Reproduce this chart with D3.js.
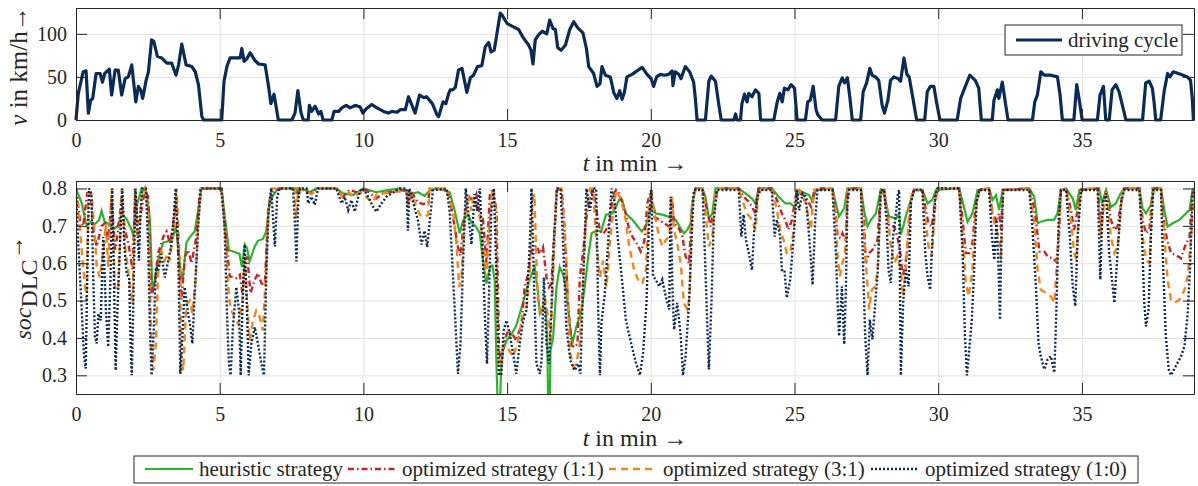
<!DOCTYPE html>
<html>
<head>
<meta charset="utf-8">
<script src="https://cdn.jsdelivr.net/npm/d3@7"></script>
<style>
  body { margin: 0; background: #fff; }
  svg { display: block; font-family: "Liberation Serif", "Times New Roman", serif; }
  .tick text { font-family: "Liberation Serif", "Times New Roman", serif; font-size: 20px; fill: #262626; }
  .frame .domain, .frame line { stroke: #262626; }
  .grid line { stroke: #e3e3e3; }
  .grid .domain { display: none; }
</style>
</head>
<body>
<div id="vis"></div>
<script>
// driving cycle, t in min / v in km/h
var cycleT = [0,0.08,0.25,0.35,0.43,0.51,0.58,0.70,0.84,0.92,1.0,1.16,1.24,1.36,1.47,1.59,1.71,1.82,1.94,2.08,2.17,2.25,2.32,2.44,2.52,2.63,2.71,2.83,2.98,3.16,3.33,3.48,3.57,3.68,3.83,4.03,4.15,4.26,4.38,4.44,5.07,5.15,5.25,5.36,5.59,5.71,5.77,5.85,5.94,6.06,6.23,6.35,6.58,6.70,6.78,6.89,7.04,7.51,7.62,7.72,7.83,7.91,8.08,8.12,8.2,8.32,8.44,8.52,8.6,8.9,8.98,9.14,9.25,9.4,9.54,9.71,9.89,9.98,10.1,10.29,10.47,10.7,10.87,10.99,11.17,11.28,11.46,11.57,11.69,11.8,11.95,12.1,12.2,12.4,12.56,12.62,12.77,12.87,12.97,13.02,13.11,13.2,13.31,13.43,13.6,13.72,13.83,13.97,14.12,14.24,14.36,14.44,14.55,14.62,14.76,14.82,15.0,15.17,15.4,15.57,15.75,15.83,15.9,15.98,16.1,16.22,16.38,16.48,16.6,16.68,16.76,16.88,17.03,17.18,17.32,17.46,17.64,17.76,17.84,18.01,18.13,18.23,18.3,18.42,18.59,18.71,18.82,18.92,19.0,19.08,19.17,19.35,19.52,19.7,19.87,20.01,20.1,20.2,20.33,20.47,20.62,20.74,20.77,20.85,20.97,21.05,21.2,21.35,21.49,21.55,21.61,21.9,22.02,22.1,22.25,22.37,22.45,22.89,22.95,23.0,23.12,23.17,23.26,23.35,23.41,23.52,23.64,23.76,23.82,24.28,24.4,24.49,24.57,24.65,24.77,24.88,25.0,25.09,25.38,25.46,25.55,25.65,25.75,25.81,25.96,26.43,26.54,26.66,26.74,26.84,26.93,27.01,27.3,27.39,27.51,27.62,27.7,27.82,27.93,28.05,28.13,28.25,28.34,28.46,28.6,28.69,28.81,28.91,28.99,29.1,29.25,29.53,29.62,29.73,29.85,29.94,30.06,30.66,30.78,30.92,31.1,31.29,31.41,31.5,31.88,31.94,32.06,32.11,32.23,32.35,32.43,33.28,33.36,33.45,33.57,33.69,33.92,34.15,34.24,34.32,34.72,34.82,34.9,35.01,35.54,35.63,35.75,35.83,35.95,36.05,36.18,36.29,36.41,36.53,37.11,37.22,37.34,37.45,37.51,37.57,37.74,37.86,37.98,38.06,38.18,38.43,38.67,38.78,38.84,38.88];
var cycleV = [0,31,56,57,8,23,25,54,54,44,54,59,29,58,58,29,48,50,64,21,39,35,25,46,56,93,91,74,72,66,66,52,64,88,64,62,56,41,4,0,0,45,62,72,72,72,83,68,71,78,69,65,64,39,19,30,0,0,8,34,8,0,0,17,10,16,7,10,0,0,10,10,14,17,14,17,15,8,13,18,14,10,8,10,9,12,12,27,17,8,29,26,27,19,6,4,21,19,31,35,35,38,58,60,32,49,52,62,63,85,90,79,81,95,124,122,112,109,105,95,87,81,65,93,99,103,100,116,106,105,84,81,87,105,114,107,101,83,62,54,39,42,62,52,50,32,25,34,24,32,50,53,57,61,53,48,39,50,53,52,53,57,40,56,53,48,62,56,44,25,0,0,45,51,45,17,0,0,7,0,0,19,30,21,31,27,35,31,0,0,21,31,21,37,35,41,37,0,0,21,23,39,12,6,0,0,39,49,43,49,25,0,0,33,43,60,52,50,46,17,8,23,46,50,48,45,72,53,50,29,0,0,33,39,39,21,0,0,25,37,52,46,37,0,0,23,35,25,44,17,0,0,21,29,56,52,52,50,29,0,0,41,25,0,0,29,39,0,0,35,41,33,17,0,0,43,45,37,21,0,0,33,54,50,56,53,50,46,25,0];

// soc_DLC, heuristic strategy
var heurT = [0,0.2,0.37,0.5,0.66,0.8,0.89,1.0,1.15,1.3,1.45,1.59,1.75,1.93,1.99,2.1,2.28,2.45,2.57,2.66,2.74,2.86,3.03,3.26,3.38,3.47,3.55,3.67,3.72,3.84,3.96,4.13,4.25,4.36,5.06,5.17,5.32,5.52,5.69,5.77,5.87,5.95,6.04,6.22,6.33,6.5,6.62,6.74,6.85,7.03,7.66,7.73,7.84,8.13,8.37,9.06,9.29,9.64,9.99,10.45,10.8,11.26,11.67,11.9,12.13,12.3,12.54,12.89,13.0,13.18,13.35,13.47,13.64,13.76,13.93,14.05,14.16,14.28,14.4,14.49,14.57,14.63,14.68,14.74,14.8,14.86,14.98,15.15,15.32,15.5,15.67,15.85,15.96,16.08,16.14,16.25,16.35,16.4,16.43,16.48,16.51,16.6,16.72,16.83,16.95,17.06,17.18,17.27,17.41,17.59,17.7,17.82,17.94,18.11,18.27,18.44,18.67,18.9,19.0,19.13,19.36,19.6,19.69,19.83,19.94,20.06,20.17,20.4,20.64,20.87,21.04,21.15,21.27,21.39,21.44,21.56,21.79,21.9,22.02,22.14,22.25,23.06,23.29,23.52,23.64,23.75,24.21,24.45,24.68,24.85,25.02,25.16,25.51,25.63,25.74,26.32,26.44,26.55,26.73,26.84,27.31,27.42,27.54,27.66,27.83,28.0,28.12,28.29,28.53,28.64,28.7,28.78,28.87,29.05,29.16,29.45,29.63,29.8,29.92,30.73,30.9,31.02,31.19,31.37,31.77,31.89,32.01,32.12,32.24,33.17,33.34,33.46,33.57,33.8,34.03,34.15,34.27,34.45,34.68,34.79,34.91,35.6,35.7,35.84,36.01,36.18,36.35,36.47,37.0,37.11,37.23,37.4,37.52,37.75,37.87,37.98,38.16,38.39,38.62,38.74,38.85,38.9];
var heurSoc = [0.80,0.76,0.70,0.71,0.705,0.715,0.74,0.71,0.705,0.69,0.70,0.73,0.72,0.69,0.675,0.75,0.80,0.79,0.72,0.53,0.55,0.61,0.655,0.66,0.67,0.70,0.65,0.56,0.56,0.655,0.67,0.685,0.74,0.80,0.80,0.73,0.635,0.63,0.625,0.59,0.65,0.64,0.605,0.645,0.66,0.665,0.685,0.76,0.78,0.80,0.80,0.785,0.80,0.79,0.80,0.80,0.787,0.782,0.80,0.79,0.795,0.80,0.785,0.79,0.78,0.794,0.80,0.794,0.79,0.74,0.68,0.714,0.73,0.71,0.696,0.68,0.607,0.545,0.59,0.594,0.554,0.33,0.2,0.2,0.33,0.367,0.393,0.41,0.433,0.48,0.527,0.57,0.59,0.518,0.465,0.478,0.478,0.385,0.2,0.2,0.367,0.40,0.536,0.59,0.57,0.527,0.437,0.385,0.43,0.474,0.536,0.616,0.68,0.687,0.685,0.73,0.733,0.77,0.77,0.733,0.716,0.693,0.685,0.70,0.733,0.76,0.733,0.73,0.724,0.716,0.693,0.68,0.689,0.707,0.76,0.80,0.80,0.778,0.72,0.733,0.80,0.80,0.787,0.773,0.76,0.80,0.80,0.778,0.76,0.76,0.75,0.795,0.782,0.765,0.795,0.80,0.76,0.725,0.747,0.80,0.80,0.742,0.698,0.716,0.733,0.796,0.782,0.725,0.72,0.733,0.676,0.698,0.725,0.77,0.796,0.796,0.76,0.77,0.796,0.80,0.75,0.71,0.733,0.796,0.80,0.769,0.782,0.742,0.796,0.80,0.778,0.707,0.711,0.716,0.716,0.733,0.796,0.80,0.773,0.742,0.796,0.80,0.76,0.796,0.75,0.76,0.787,0.80,0.80,0.747,0.733,0.756,0.80,0.80,0.742,0.698,0.707,0.716,0.733,0.742,0.796,0.80];

// optimized strategy (1:1)
var opt11T = [0,0.14,0.25,0.39,0.51,0.6,0.72,0.89,1.01,1.12,1.24,1.36,1.47,1.59,1.7,1.82,1.97,2.05,2.17,2.28,2.4,2.51,2.63,2.75,2.86,3.04,3.15,3.27,3.38,3.48,3.56,3.67,3.79,3.9,4.02,4.19,4.31,4.37,5.06,5.21,5.35,5.59,5.7,5.79,5.87,5.96,6.07,6.22,6.34,6.45,6.57,6.69,6.8,7.09,7.6,7.67,7.79,8.2,8.4,9.06,9.29,9.52,9.87,10.1,10.45,10.68,11.26,11.5,11.55,11.67,11.9,12.08,12.25,12.3,12.54,12.89,13.0,13.18,13.29,13.38,13.47,13.58,13.7,13.82,13.93,14.05,14.16,14.28,14.4,14.51,14.63,14.72,14.8,14.88,15.03,15.21,15.32,15.5,15.61,15.73,15.85,16.02,16.14,16.25,16.37,16.46,16.54,16.62,16.72,16.83,16.9,17.0,17.12,17.24,17.36,17.45,17.53,17.65,17.76,17.88,17.99,18.11,18.23,18.34,18.44,18.57,18.67,18.79,18.9,19.13,19.25,19.36,19.54,19.65,19.77,19.88,20.0,20.12,20.29,20.46,20.64,20.73,20.81,20.98,21.1,21.21,21.33,21.44,21.56,21.79,21.96,22.08,22.2,22.31,23.06,23.23,23.41,23.52,23.64,23.75,24.21,24.39,24.56,24.68,24.79,24.91,25.08,25.16,25.39,25.57,25.68,25.8,26.32,26.44,26.5,26.61,26.67,26.79,26.84,26.9,27.31,27.42,27.48,27.6,27.71,27.89,28.0,28.12,28.2,28.29,28.47,28.58,28.7,28.76,28.85,28.93,29.05,29.16,29.45,29.55,29.66,29.78,29.9,29.98,30.73,30.85,30.96,31.08,31.19,31.31,31.43,31.77,31.89,32.01,32.12,32.18,32.26,33.17,33.28,33.4,33.52,33.69,33.81,33.98,34.1,34.19,34.27,34.45,34.62,34.73,34.85,34.97,35.55,35.66,35.74,35.84,36.01,36.13,36.24,36.39,36.47,37.0,37.11,37.23,37.35,37.46,37.75,37.87,37.98,38.1,38.27,38.45,38.62,38.74,38.85,38.9];
var opt11Soc = [0.80,0.716,0.70,0.787,0.787,0.69,0.645,0.70,0.707,0.662,0.77,0.636,0.69,0.778,0.69,0.653,0.582,0.778,0.707,0.742,0.796,0.778,0.51,0.556,0.627,0.671,0.685,0.653,0.70,0.778,0.618,0.502,0.618,0.636,0.60,0.671,0.796,0.80,0.80,0.671,0.565,0.56,0.569,0.52,0.591,0.618,0.52,0.556,0.573,0.547,0.538,0.751,0.787,0.80,0.80,0.782,0.80,0.787,0.80,0.80,0.778,0.796,0.787,0.796,0.773,0.787,0.795,0.795,0.767,0.79,0.763,0.758,0.763,0.794,0.80,0.794,0.776,0.696,0.643,0.62,0.696,0.75,0.776,0.767,0.785,0.73,0.72,0.60,0.785,0.80,0.74,0.367,0.33,0.385,0.42,0.407,0.393,0.438,0.536,0.571,0.634,0.647,0.625,0.643,0.562,0.536,0.545,0.65,0.794,0.80,0.794,0.696,0.49,0.38,0.375,0.385,0.562,0.634,0.722,0.776,0.80,0.74,0.687,0.678,0.689,0.71,0.778,0.796,0.787,0.733,0.689,0.671,0.649,0.631,0.658,0.76,0.796,0.724,0.716,0.707,0.698,0.778,0.707,0.693,0.671,0.618,0.60,0.76,0.80,0.80,0.742,0.698,0.742,0.80,0.80,0.778,0.764,0.751,0.733,0.80,0.80,0.769,0.733,0.716,0.689,0.716,0.796,0.787,0.778,0.751,0.791,0.80,0.80,0.733,0.671,0.667,0.68,0.658,0.778,0.80,0.80,0.716,0.60,0.627,0.636,0.662,0.796,0.796,0.742,0.702,0.698,0.671,0.618,0.565,0.591,0.645,0.769,0.796,0.796,0.751,0.707,0.698,0.778,0.80,0.80,0.716,0.627,0.627,0.653,0.76,0.796,0.80,0.733,0.716,0.733,0.689,0.796,0.80,0.769,0.716,0.631,0.631,0.618,0.613,0.605,0.653,0.796,0.80,0.742,0.689,0.742,0.796,0.80,0.698,0.742,0.796,0.716,0.689,0.698,0.778,0.80,0.80,0.716,0.68,0.689,0.80,0.80,0.698,0.658,0.627,0.622,0.613,0.653,0.667,0.796,0.80];

// optimized strategy (3:1)
var opt31T = [0,0.14,0.23,0.31,0.37,0.43,0.54,0.66,0.72,0.83,0.95,1.04,1.12,1.24,1.35,1.47,1.59,1.7,1.88,1.97,2.05,2.16,2.28,2.4,2.51,2.63,2.69,2.78,2.86,2.97,3.09,3.18,3.26,3.44,3.5,3.61,3.67,3.73,3.84,3.96,4.05,4.17,4.25,4.36,5.06,5.23,5.32,5.4,5.52,5.64,5.72,5.79,5.87,5.95,6.04,6.16,6.27,6.39,6.5,6.6,6.68,6.8,7.6,7.66,7.73,8.2,8.4,9.06,9.28,9.5,9.64,9.85,10.34,10.46,11.5,11.55,11.67,11.96,12.13,12.25,12.3,12.89,13.12,13.24,13.33,13.41,13.53,13.64,13.76,13.82,14.05,14.16,14.28,14.37,14.49,14.61,14.69,14.77,14.86,14.98,15.07,15.21,15.38,15.53,15.67,15.79,15.87,15.95,16.02,16.08,16.2,16.31,16.43,16.51,16.6,16.72,16.89,17.06,17.18,17.3,17.41,17.53,17.65,17.76,17.88,17.99,18.11,18.23,18.34,18.46,18.57,18.69,18.8,18.96,19.13,19.25,19.42,19.6,19.71,19.83,19.94,20.02,20.12,20.29,20.4,20.52,20.64,20.73,20.81,20.92,21.04,21.15,21.27,21.35,21.44,21.56,21.8,21.93,22.02,22.14,22.25,22.37,23.06,23.18,23.35,23.52,23.64,23.75,24.21,24.39,24.5,24.62,24.73,24.85,24.97,25.08,25.16,25.39,25.57,25.68,26.32,26.42,26.5,26.58,26.67,26.76,26.84,27.31,27.42,27.54,27.6,27.69,27.81,27.89,28.0,28.12,28.24,28.35,28.47,28.58,28.7,28.78,28.87,28.99,29.11,29.45,29.55,29.66,29.78,29.9,29.98,30.73,30.85,30.96,31.06,31.19,31.31,31.43,31.77,31.89,32.01,32.12,32.18,32.26,33.17,33.33,33.46,33.57,33.75,33.92,34.04,34.15,34.27,34.45,34.62,34.73,34.81,34.91,35.0,35.55,35.66,35.74,35.84,36.01,36.13,36.24,36.39,36.47,37.0,37.11,37.23,37.35,37.46,37.75,37.87,37.98,38.1,38.22,38.39,38.57,38.68,38.8,38.9];
var opt31Soc = [0.80,0.696,0.607,0.545,0.50,0.785,0.785,0.67,0.59,0.562,0.634,0.705,0.59,0.80,0.536,0.527,0.80,0.65,0.536,0.49,0.80,0.65,0.776,0.80,0.74,0.358,0.313,0.385,0.58,0.634,0.607,0.625,0.607,0.714,0.80,0.607,0.34,0.313,0.49,0.50,0.465,0.562,0.714,0.80,0.80,0.65,0.51,0.473,0.456,0.438,0.465,0.50,0.62,0.50,0.393,0.447,0.473,0.456,0.42,0.562,0.74,0.80,0.80,0.72,0.80,0.785,0.80,0.80,0.776,0.79,0.776,0.79,0.763,0.785,0.794,0.75,0.785,0.73,0.723,0.73,0.80,0.80,0.74,0.65,0.536,0.562,0.723,0.785,0.74,0.776,0.723,0.65,0.562,0.687,0.80,0.74,0.33,0.304,0.376,0.376,0.367,0.349,0.393,0.456,0.473,0.58,0.76,0.785,0.60,0.49,0.465,0.51,0.456,0.385,0.562,0.80,0.80,0.607,0.367,0.322,0.331,0.385,0.562,0.74,0.80,0.80,0.65,0.562,0.607,0.536,0.65,0.74,0.796,0.769,0.716,0.645,0.582,0.547,0.547,0.582,0.76,0.796,0.733,0.671,0.645,0.662,0.671,0.778,0.689,0.653,0.60,0.494,0.476,0.511,0.76,0.80,0.80,0.716,0.645,0.671,0.787,0.80,0.80,0.769,0.733,0.716,0.689,0.796,0.80,0.742,0.689,0.662,0.627,0.627,0.689,0.796,0.796,0.76,0.689,0.796,0.80,0.742,0.618,0.565,0.60,0.627,0.796,0.80,0.671,0.538,0.476,0.529,0.538,0.582,0.787,0.796,0.733,0.645,0.60,0.618,0.582,0.511,0.582,0.742,0.796,0.796,0.724,0.645,0.618,0.76,0.80,0.80,0.671,0.547,0.511,0.582,0.742,0.796,0.80,0.733,0.689,0.671,0.609,0.796,0.80,0.716,0.582,0.529,0.52,0.511,0.494,0.627,0.796,0.80,0.716,0.627,0.609,0.76,0.80,0.80,0.671,0.742,0.796,0.671,0.627,0.645,0.778,0.80,0.80,0.671,0.609,0.60,0.80,0.80,0.671,0.556,0.502,0.494,0.502,0.529,0.565,0.671,0.796];

// optimized strategy (1:0)
var opt10T = [0,0.08,0.2,0.28,0.34,0.39,0.45,0.54,0.6,0.66,0.72,0.78,0.86,0.95,1.04,1.12,1.2,1.26,1.32,1.38,1.44,1.53,1.61,1.68,1.76,1.85,1.9,1.94,1.99,2.07,2.14,2.19,2.25,2.31,2.43,2.51,2.57,2.63,2.71,2.78,2.86,2.97,3.09,3.21,3.32,3.4,3.47,3.55,3.63,3.7,3.78,3.9,3.98,4.05,4.13,4.25,4.34,5.06,5.17,5.25,5.32,5.38,5.46,5.58,5.67,5.73,5.79,5.87,5.95,6.01,6.1,6.22,6.33,6.45,6.54,6.62,6.7,6.79,6.86,6.92,7.0,7.09,7.55,7.61,7.67,7.73,7.79,8.02,8.08,8.19,8.31,8.42,9.06,9.24,9.35,9.47,9.58,9.7,9.82,9.93,10.1,10.34,10.45,10.63,10.8,11.26,11.5,11.55,11.6,11.9,12.02,12.13,12.22,12.31,12.42,12.89,13.0,13.18,13.29,13.38,13.47,13.56,13.64,13.76,13.87,13.96,14.05,14.14,14.22,14.3,14.37,14.45,14.54,14.63,14.72,14.8,14.88,14.98,15.09,15.21,15.32,15.44,15.56,15.67,15.79,15.85,15.93,16.02,16.14,16.2,16.28,16.37,16.46,16.54,16.62,16.74,16.86,16.95,17.06,17.2,17.35,17.47,17.55,17.65,17.76,17.88,17.99,18.1,18.17,18.23,18.28,18.4,18.51,18.63,18.75,18.86,19.02,19.13,19.31,19.48,19.62,19.73,19.85,19.94,20.02,20.08,20.17,20.29,20.4,20.52,20.64,20.69,20.75,20.81,20.92,21.04,21.12,21.21,21.33,21.42,21.5,21.8,21.88,21.96,22.02,22.11,22.19,22.31,23.06,23.15,23.23,23.31,23.41,23.52,23.58,23.7,23.82,24.21,24.31,24.39,24.5,24.56,24.65,24.73,24.85,24.97,25.08,25.16,25.28,25.39,25.51,25.63,25.72,25.8,26.32,26.44,26.5,26.55,26.65,26.73,26.79,26.84,26.9,27.31,27.39,27.46,27.54,27.62,27.71,27.81,27.9,28.0,28.12,28.2,28.27,28.35,28.43,28.53,28.6,28.64,28.7,28.78,28.87,28.97,29.05,29.16,29.45,29.55,29.63,29.72,29.8,29.9,29.98,30.73,30.85,30.93,31.0,31.08,31.17,31.25,31.33,31.43,31.77,31.87,31.95,32.03,32.1,32.15,32.2,32.26,33.17,33.26,33.4,33.49,33.57,33.69,33.81,33.92,34.04,34.12,34.19,34.27,34.45,34.58,34.68,34.77,34.85,34.97,35.55,35.64,35.72,35.84,35.95,36.07,36.13,36.24,36.36,36.47,37.0,37.09,37.17,37.23,37.32,37.4,37.48,37.75,37.83,37.92,38.02,38.1,38.27,38.45,38.57,38.68,38.76,38.85,38.9];
var opt10Soc = [0.80,0.65,0.474,0.349,0.318,0.562,0.80,0.785,0.562,0.402,0.385,0.465,0.447,0.67,0.474,0.376,0.562,0.80,0.562,0.313,0.474,0.65,0.80,0.65,0.571,0.562,0.385,0.30,0.474,0.80,0.687,0.607,0.74,0.80,0.80,0.65,0.429,0.30,0.429,0.59,0.58,0.625,0.562,0.607,0.65,0.723,0.80,0.65,0.304,0.402,0.536,0.465,0.429,0.385,0.518,0.696,0.80,0.80,0.696,0.474,0.331,0.30,0.429,0.536,0.474,0.30,0.474,0.65,0.474,0.30,0.385,0.429,0.385,0.331,0.30,0.562,0.74,0.80,0.716,0.645,0.778,0.80,0.80,0.716,0.605,0.76,0.80,0.80,0.76,0.778,0.756,0.80,0.80,0.76,0.778,0.742,0.769,0.738,0.778,0.80,0.787,0.751,0.738,0.76,0.778,0.80,0.80,0.687,0.80,0.714,0.65,0.687,0.643,0.714,0.795,0.80,0.74,0.474,0.304,0.385,0.607,0.80,0.74,0.65,0.785,0.74,0.80,0.65,0.474,0.331,0.518,0.74,0.80,0.562,0.30,0.304,0.42,0.447,0.411,0.358,0.304,0.385,0.447,0.474,0.65,0.80,0.562,0.331,0.304,0.34,0.562,0.385,0.331,0.474,0.65,0.80,0.80,0.65,0.429,0.34,0.313,0.331,0.304,0.562,0.80,0.74,0.80,0.80,0.474,0.30,0.438,0.518,0.65,0.80,0.76,0.66,0.538,0.449,0.387,0.334,0.30,0.36,0.494,0.716,0.796,0.565,0.556,0.538,0.556,0.511,0.476,0.778,0.538,0.422,0.494,0.405,0.30,0.351,0.494,0.671,0.796,0.796,0.627,0.449,0.316,0.494,0.716,0.796,0.796,0.671,0.73,0.662,0.627,0.582,0.67,0.778,0.796,0.796,0.671,0.716,0.671,0.582,0.582,0.507,0.556,0.671,0.796,0.742,0.787,0.778,0.671,0.542,0.716,0.796,0.796,0.627,0.494,0.405,0.538,0.383,0.538,0.76,0.796,0.796,0.582,0.405,0.30,0.449,0.396,0.494,0.582,0.796,0.796,0.716,0.582,0.547,0.671,0.733,0.787,0.796,0.30,0.494,0.582,0.538,0.76,0.796,0.796,0.627,0.565,0.529,0.671,0.778,0.80,0.80,0.627,0.405,0.30,0.369,0.449,0.582,0.76,0.796,0.796,0.671,0.609,0.716,0.582,0.449,0.671,0.796,0.796,0.716,0.538,0.387,0.351,0.316,0.343,0.351,0.307,0.494,0.716,0.796,0.796,0.671,0.538,0.485,0.671,0.796,0.796,0.556,0.76,0.787,0.627,0.538,0.494,0.627,0.76,0.796,0.796,0.671,0.494,0.431,0.476,0.671,0.796,0.796,0.582,0.405,0.316,0.30,0.325,0.351,0.378,0.467,0.582,0.778,0.796];

var xTicks = [0, 5, 10, 15, 20, 25, 30, 35];
var vTicks = [0, 50, 100];
var socTicks = [0.3, 0.4, 0.5, 0.6, 0.7, 0.8];

var W = 1198, H = 486;
var left = 76, right = 1194;
var top1 = 8, bot1 = 120;
var top2 = 181, bot2 = 394;
var tickLen = 11;
var serif = '"Liberation Serif", "Times New Roman", serif';

var svg = d3.select("#vis").append("svg")
    .attr("width", W)
    .attr("height", H);

var x = d3.scaleLinear().domain([0, 38.9]).range([left, right]);
var yV = d3.scaleLinear().domain([0, 130]).range([bot1, top1]);
var yS = d3.scaleLinear().domain([0.25, 0.82]).range([bot2, top2]);

function zip(a, b) { return a.map(function(d, i) { return [d, b[i]]; }); }

function drawGrid(y, yTicks, yTop, yBot) {
  svg.append("g").attr("class", "grid")
      .attr("transform", "translate(0," + yBot + ")")
      .call(d3.axisBottom(x).tickValues(xTicks.slice(1)).tickSize(-(yBot - yTop)).tickFormat(""));
  svg.append("g").attr("class", "grid")
      .attr("transform", "translate(" + left + ",0)")
      .call(d3.axisLeft(y).tickValues(yTicks).tickSize(-(right - left)).tickFormat(""));
}

function drawAxes(y, yTicks, yTop, yBot, fmt) {
  var g;
  g = svg.append("g").attr("class", "frame")
      .attr("transform", "translate(0," + yBot + ")")
      .call(d3.axisBottom(x).tickValues(xTicks).tickSizeInner(-tickLen).tickSizeOuter(0).tickPadding(8));
  g.attr("font-family", serif);
  g.selectAll(".tick text").attr("dy", "0.95em");
  svg.append("g").attr("class", "frame")
      .attr("transform", "translate(0," + yTop + ")")
      .call(d3.axisTop(x).tickValues(xTicks).tickSizeInner(-tickLen).tickSizeOuter(0).tickFormat(""));
  g = svg.append("g").attr("class", "frame")
      .attr("transform", "translate(" + left + ",0)")
      .call(d3.axisLeft(y).tickValues(yTicks).tickSizeInner(-tickLen).tickSizeOuter(0).tickPadding(9).tickFormat(fmt));
  g.attr("font-family", serif);
  svg.append("g").attr("class", "frame")
      .attr("transform", "translate(" + right + ",0)")
      .call(d3.axisRight(y).tickValues(yTicks).tickSizeInner(-tickLen).tickSizeOuter(0).tickFormat(""));
}

////////// top: driving cycle //////////

drawGrid(yV, vTicks, top1, bot1);

svg.append("path")
    .datum(zip(cycleT, cycleV))
    .attr("fill", "none")
    .attr("stroke", "#0b2b57")
    .attr("stroke-width", 3.2)
    .attr("stroke-linejoin", "round")
    .attr("d", d3.line().x(function(d) { return x(d[0]); }).y(function(d) { return yV(d[1]); }));

drawAxes(yV, vTicks, top1, bot1, d3.format("d"));

var leg1 = svg.append("g");
leg1.append("rect")
    .attr("x", 1005).attr("y", 25).attr("width", 177).attr("height", 30)
    .attr("fill", "#fff").attr("stroke", "#262626");
leg1.append("line")
    .attr("x1", 1016).attr("x2", 1062).attr("y1", 40).attr("y2", 40)
    .attr("stroke", "#0b2b57").attr("stroke-width", 3.2);
leg1.append("text")
    .attr("x", 1068).attr("y", 47)
    .attr("font-size", 21).attr("fill", "#262626")
    .text("driving cycle");

svg.append("text")
    .attr("x", (left + right) / 2).attr("y", 171)
    .attr("text-anchor", "middle").attr("font-size", 24).attr("fill", "#262626")
    .html('<tspan font-style="italic">t</tspan> in min →');

svg.append("text")
    .attr("transform", "translate(27," + ((top1 + bot1) / 2 + 2) + ") rotate(-90)")
    .attr("text-anchor", "middle").attr("font-size", 25).attr("fill", "#262626")
    .html('<tspan font-style="italic">v</tspan> in km/h→');

////////// bottom: soc //////////

drawGrid(yS, socTicks, top2, bot2);

svg.append("clipPath").attr("id", "clip2")
  .append("rect")
    .attr("x", left).attr("y", top2).attr("width", right - left).attr("height", bot2 - top2);

var series = [
  { name: "heuristic strategy", t: heurT, v: heurSoc, color: "#2fb12f", dash: null, width: 2.2 },
  { name: "optimized strategy (1:1)", t: opt11T, v: opt11Soc, color: "#c0262b", dash: "6,3,1.5,3", width: 2.4 },
  { name: "optimized strategy (3:1)", t: opt31T, v: opt31Soc, color: "#f0861c", dash: "7,5", width: 2.4 },
  { name: "optimized strategy (1:0)", t: opt10T, v: opt10Soc, color: "#0b2b57", dash: "2,2", width: 2.4 }
];

var plot = svg.append("g").attr("clip-path", "url(#clip2)");
var socLine = d3.line().x(function(d) { return x(d[0]); }).y(function(d) { return yS(d[1]); });

plot.selectAll(".soc")
    .data(series)
    .enter()
    .append("path")
    .attr("class", "soc")
    .attr("fill", "none")
    .attr("stroke", function(d) { return d.color; })
    .attr("stroke-width", function(d) { return d.width; })
    .attr("stroke-dasharray", function(d) { return d.dash; })
    .attr("d", function(d) { return socLine(zip(d.t, d.v)); });

drawAxes(yS, socTicks, top2, bot2, d3.format(".1f"));

svg.append("text")
    .attr("x", (left + right) / 2).attr("y", 446)
    .attr("text-anchor", "middle").attr("font-size", 24).attr("fill", "#262626")
    .html('<tspan font-style="italic">t</tspan> in min →');

svg.append("text")
    .attr("transform", "translate(31," + ((top2 + bot2) / 2) + ") rotate(-90)")
    .attr("text-anchor", "middle").attr("font-size", 24).attr("fill", "#262626")
    .html('<tspan font-style="italic">soc</tspan><tspan dy="6">DLC</tspan><tspan dy="-14">→</tspan>');

// legend
var legX = [145, 348, 609, 871];
var leg2 = svg.append("g");
leg2.append("rect")
    .attr("x", 134).attr("y", 456).attr("width", 1004).attr("height", 27)
    .attr("fill", "#fff").attr("stroke", "#262626");
var items = leg2.selectAll(".item")
    .data(series)
    .enter()
    .append("g")
    .attr("transform", function(d, i) { return "translate(" + legX[i] + ",469)"; });
items.append("line")
    .attr("x1", 0).attr("x2", 48)
    .attr("stroke", function(d) { return d.color; })
    .attr("stroke-width", function(d) { return d.width; })
    .attr("stroke-dasharray", function(d) { return d.dash; });
items.append("text")
    .attr("x", 54).attr("y", 7)
    .attr("font-size", 21).attr("fill", "#262626")
    .text(function(d) { return d.name; });
</script>
</body>
</html>
